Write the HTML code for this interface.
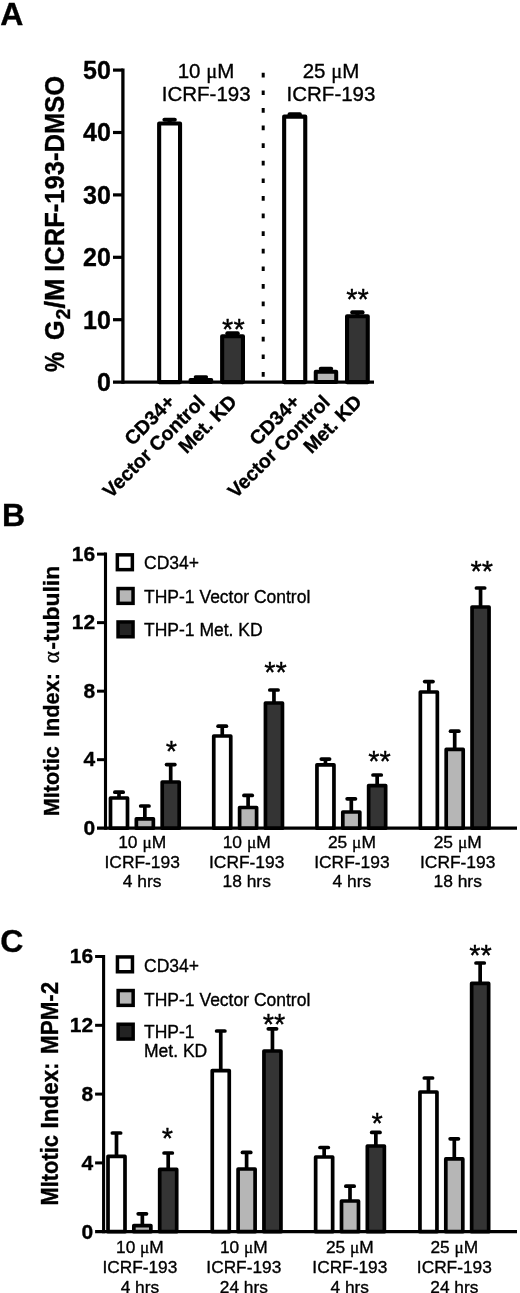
<!DOCTYPE html>
<html><head><meta charset="utf-8"><title>Figure</title>
<style>html,body{margin:0;padding:0;background:#fff}svg{display:block}</style></head><body>
<svg width="520" height="1293" viewBox="0 0 520 1293" font-family='"Liberation Sans", Arial, sans-serif' fill="#000">
<style>text{stroke:#000;stroke-width:0.35px;stroke-linejoin:round}</style>
<rect x="0" y="0" width="520" height="1293" fill="#fff"/>
<text x="0.3" y="25" font-size="32" font-weight="bold" text-anchor="start" >A</text>
<line x1="122.9" y1="68.5" x2="122.9" y2="383.7" stroke="#000" stroke-width="3.3" />
<text x="110.8" y="390.9" font-size="25" font-weight="bold" text-anchor="end" >0</text>
<line x1="113" y1="319.7" x2="122.9" y2="319.7" stroke="#000" stroke-width="3.2" />
<text x="110.8" y="328.5" font-size="25" font-weight="bold" text-anchor="end" >10</text>
<line x1="113" y1="257.3" x2="122.9" y2="257.3" stroke="#000" stroke-width="3.2" />
<text x="110.8" y="266.1" font-size="25" font-weight="bold" text-anchor="end" >20</text>
<line x1="113" y1="194.9" x2="122.9" y2="194.9" stroke="#000" stroke-width="3.2" />
<text x="110.8" y="203.7" font-size="25" font-weight="bold" text-anchor="end" >30</text>
<line x1="113" y1="132.5" x2="122.9" y2="132.5" stroke="#000" stroke-width="3.2" />
<text x="110.8" y="141.3" font-size="25" font-weight="bold" text-anchor="end" >40</text>
<line x1="113" y1="70.1" x2="122.9" y2="70.1" stroke="#000" stroke-width="3.2" />
<text x="110.8" y="78.9" font-size="25" font-weight="bold" text-anchor="end" >50</text>
<line x1="113" y1="382.1" x2="374" y2="382.1" stroke="#000" stroke-width="3.3" />
<text transform="translate(64.3,372.0) rotate(-90) scale(0.83,1)" font-size="27.2" font-weight="bold">%</text>
<text transform="translate(64.3,340.1) rotate(-90) scale(0.93,1)" font-size="27.2" font-weight="bold">G</text>
<text transform="translate(64.3,319.4) rotate(-90)" font-size="27.2" font-weight="bold"><tspan font-size="19.5" dy="5.8">2</tspan></text>
<text transform="translate(64.3,308.6) rotate(-90)" font-size="27.2" font-weight="bold">/M</text>
<text transform="translate(64.0,75.9) rotate(-90) scale(0.94,1)" font-size="27.2" font-weight="bold" text-anchor="end">ICRF-193-DMSO</text>
<line x1="169.6" y1="119.8" x2="169.6" y2="123.5" stroke="#000" stroke-width="4.1" />
<line x1="164.45" y1="119.8" x2="174.75" y2="119.8" stroke="#000" stroke-width="4.1" stroke-linecap="round"/>
<rect x="159.15" y="123.50" width="20.90" height="258.60" fill="#ffffff" stroke="#000" stroke-width="4.1" stroke-linejoin="round"/>
<line x1="200.9" y1="377" x2="200.9" y2="379.8" stroke="#000" stroke-width="3.6" />
<line x1="195.50" y1="377" x2="206.30" y2="377" stroke="#000" stroke-width="3.6" stroke-linecap="round"/>
<rect x="190.40" y="379.80" width="21.00" height="2.30" fill="#b6b6b6" stroke="#000" stroke-width="3.6" stroke-linejoin="round"/>
<line x1="232.55" y1="333.2" x2="232.55" y2="336.2" stroke="#000" stroke-width="4.1" />
<line x1="227.40" y1="333.2" x2="237.70" y2="333.2" stroke="#000" stroke-width="4.1" stroke-linecap="round"/>
<rect x="222.15" y="336.20" width="20.80" height="45.90" fill="#343434" stroke="#000" stroke-width="4.1" stroke-linejoin="round"/>
<line x1="294.7" y1="114.4" x2="294.7" y2="116.6" stroke="#000" stroke-width="4.1" />
<line x1="289.55" y1="114.4" x2="299.85" y2="114.4" stroke="#000" stroke-width="4.1" stroke-linecap="round"/>
<rect x="284.15" y="116.60" width="21.10" height="265.50" fill="#ffffff" stroke="#000" stroke-width="4.1" stroke-linejoin="round"/>
<line x1="325.98" y1="368.8" x2="325.98" y2="371.8" stroke="#000" stroke-width="4.0" />
<line x1="320.78" y1="368.8" x2="331.18" y2="368.8" stroke="#000" stroke-width="4.0" stroke-linecap="round"/>
<rect x="315.75" y="371.80" width="20.45" height="10.30" fill="#b6b6b6" stroke="#000" stroke-width="4.0" stroke-linejoin="round"/>
<line x1="357.4" y1="312.4" x2="357.4" y2="316.3" stroke="#000" stroke-width="4.1" />
<line x1="352.25" y1="312.4" x2="362.55" y2="312.4" stroke="#000" stroke-width="4.1" stroke-linecap="round"/>
<rect x="347.05" y="316.30" width="20.70" height="65.80" fill="#343434" stroke="#000" stroke-width="4.1" stroke-linejoin="round"/>
<line x1="263.2" y1="72.8" x2="263.2" y2="377.5" stroke="#000" stroke-width="3" stroke-dasharray="4.7 12.9"/>
<text x="206" y="78" font-size="20.5" font-weight="normal" text-anchor="middle" >10 <tspan font-family='"Liberation Serif", serif'>μ</tspan>M</text>
<text x="206.2" y="101" font-size="20.5" font-weight="normal" text-anchor="middle" >ICRF-193</text>
<text x="331" y="78" font-size="20.5" font-weight="normal" text-anchor="middle" >25 <tspan font-family='"Liberation Serif", serif'>μ</tspan>M</text>
<text x="331" y="101" font-size="20.5" font-weight="normal" text-anchor="middle" >ICRF-193</text>
<text x="233.4" y="338.75" font-size="29" font-weight="normal" text-anchor="middle" >**</text>
<text x="357.5" y="308.5" font-size="29" font-weight="normal" text-anchor="middle" >**</text>
<text transform="translate(176,403) rotate(-45)" font-size="19.6" font-weight="bold" text-anchor="end">CD34+</text>
<text transform="translate(206.2,403.5) rotate(-45)" font-size="19.6" font-weight="bold" text-anchor="end">Vector Control</text>
<text transform="translate(238,403) rotate(-45)" font-size="19.6" font-weight="bold" text-anchor="end">Met. KD</text>
<text transform="translate(301,403) rotate(-45)" font-size="19.6" font-weight="bold" text-anchor="end">CD34+</text>
<text transform="translate(331.2,403.5) rotate(-45)" font-size="19.6" font-weight="bold" text-anchor="end">Vector Control</text>
<text transform="translate(363,403) rotate(-45)" font-size="19.6" font-weight="bold" text-anchor="end">Met. KD</text>
<text x="2" y="526" font-size="32" font-weight="bold" text-anchor="start" >B</text>
<line x1="105.5" y1="552.62" x2="105.5" y2="829.7" stroke="#000" stroke-width="3.1" />
<text x="95.1" y="835.0" font-size="21" font-weight="bold" text-anchor="end" >0</text>
<line x1="97.0" y1="759.68" x2="105.5" y2="759.68" stroke="#000" stroke-width="3.0" />
<text x="95.1" y="766.48" font-size="21" font-weight="bold" text-anchor="end" >4</text>
<line x1="97.0" y1="691.16" x2="105.5" y2="691.16" stroke="#000" stroke-width="3.0" />
<text x="95.1" y="697.96" font-size="21" font-weight="bold" text-anchor="end" >8</text>
<line x1="97.0" y1="622.64" x2="105.5" y2="622.64" stroke="#000" stroke-width="3.0" />
<text x="95.1" y="629.44" font-size="21" font-weight="bold" text-anchor="end" >12</text>
<line x1="97.0" y1="554.12" x2="105.5" y2="554.12" stroke="#000" stroke-width="3.0" />
<text x="95.1" y="560.92" font-size="21" font-weight="bold" text-anchor="end" >16</text>
<line x1="97.0" y1="828.2" x2="517" y2="828.2" stroke="#000" stroke-width="3.2" />
<text transform="translate(58.9,816.3) rotate(-90) scale(0.95,1)" font-size="22.9" font-weight="bold">MItotic</text><text transform="translate(58.9,737.0) rotate(-90) scale(0.95,1)" font-size="22.9" font-weight="bold">Index:</text><text transform="translate(58.9,657.2) rotate(-90)" font-size="23" font-weight="normal" text-anchor="middle" stroke="#000" stroke-width="0.45" font-family='"Liberation Serif", serif'>α</text><text transform="translate(58.9,565.8) rotate(-90)" font-size="22.9" font-weight="bold" text-anchor="end">-tubulin</text>
<line x1="119.0" y1="792.2" x2="119.0" y2="798" stroke="#000" stroke-width="3.7" />
<line x1="114.85" y1="792.2" x2="123.15" y2="792.2" stroke="#000" stroke-width="3.7" stroke-linecap="round"/>
<rect x="110.50" y="798.00" width="17.00" height="30.20" fill="#ffffff" stroke="#000" stroke-width="3.7" stroke-linejoin="round"/>
<line x1="144.85" y1="806" x2="144.85" y2="818.8" stroke="#000" stroke-width="3.7" />
<line x1="140.70" y1="806" x2="149.00" y2="806" stroke="#000" stroke-width="3.7" stroke-linecap="round"/>
<rect x="136.35" y="818.80" width="17.00" height="9.40" fill="#b6b6b6" stroke="#000" stroke-width="3.7" stroke-linejoin="round"/>
<line x1="170.7" y1="764.6" x2="170.7" y2="782" stroke="#000" stroke-width="3.7" />
<line x1="166.55" y1="764.6" x2="174.85" y2="764.6" stroke="#000" stroke-width="3.7" stroke-linecap="round"/>
<rect x="162.20" y="782.00" width="17.00" height="46.20" fill="#343434" stroke="#000" stroke-width="3.7" stroke-linejoin="round"/>
<line x1="222.25" y1="726.2" x2="222.25" y2="736" stroke="#000" stroke-width="3.7" />
<line x1="218.10" y1="726.2" x2="226.40" y2="726.2" stroke="#000" stroke-width="3.7" stroke-linecap="round"/>
<rect x="213.75" y="736.00" width="17.00" height="92.20" fill="#ffffff" stroke="#000" stroke-width="3.7" stroke-linejoin="round"/>
<line x1="248.1" y1="795.4" x2="248.1" y2="807.5" stroke="#000" stroke-width="3.7" />
<line x1="243.95" y1="795.4" x2="252.25" y2="795.4" stroke="#000" stroke-width="3.7" stroke-linecap="round"/>
<rect x="239.60" y="807.50" width="17.00" height="20.70" fill="#b6b6b6" stroke="#000" stroke-width="3.7" stroke-linejoin="round"/>
<line x1="273.95" y1="690" x2="273.95" y2="703" stroke="#000" stroke-width="3.7" />
<line x1="269.80" y1="690" x2="278.10" y2="690" stroke="#000" stroke-width="3.7" stroke-linecap="round"/>
<rect x="265.45" y="703.00" width="17.00" height="125.20" fill="#343434" stroke="#000" stroke-width="3.7" stroke-linejoin="round"/>
<line x1="325.45" y1="759.1" x2="325.45" y2="764.8" stroke="#000" stroke-width="3.7" />
<line x1="321.30" y1="759.1" x2="329.60" y2="759.1" stroke="#000" stroke-width="3.7" stroke-linecap="round"/>
<rect x="316.95" y="764.80" width="17.00" height="63.40" fill="#ffffff" stroke="#000" stroke-width="3.7" stroke-linejoin="round"/>
<line x1="351.3" y1="798.8" x2="351.3" y2="812" stroke="#000" stroke-width="3.7" />
<line x1="347.15" y1="798.8" x2="355.45" y2="798.8" stroke="#000" stroke-width="3.7" stroke-linecap="round"/>
<rect x="342.80" y="812.00" width="17.00" height="16.20" fill="#b6b6b6" stroke="#000" stroke-width="3.7" stroke-linejoin="round"/>
<line x1="377.15" y1="775" x2="377.15" y2="785.6" stroke="#000" stroke-width="3.7" />
<line x1="373.00" y1="775" x2="381.30" y2="775" stroke="#000" stroke-width="3.7" stroke-linecap="round"/>
<rect x="368.65" y="785.60" width="17.00" height="42.60" fill="#343434" stroke="#000" stroke-width="3.7" stroke-linejoin="round"/>
<line x1="428.85" y1="681.6" x2="428.85" y2="692" stroke="#000" stroke-width="3.7" />
<line x1="424.70" y1="681.6" x2="433.00" y2="681.6" stroke="#000" stroke-width="3.7" stroke-linecap="round"/>
<rect x="420.35" y="692.00" width="17.00" height="136.20" fill="#ffffff" stroke="#000" stroke-width="3.7" stroke-linejoin="round"/>
<line x1="454.7" y1="731.2" x2="454.7" y2="749.4" stroke="#000" stroke-width="3.7" />
<line x1="450.55" y1="731.2" x2="458.85" y2="731.2" stroke="#000" stroke-width="3.7" stroke-linecap="round"/>
<rect x="446.20" y="749.40" width="17.00" height="78.80" fill="#b6b6b6" stroke="#000" stroke-width="3.7" stroke-linejoin="round"/>
<line x1="480.55" y1="588" x2="480.55" y2="607" stroke="#000" stroke-width="3.7" />
<line x1="476.40" y1="588" x2="484.70" y2="588" stroke="#000" stroke-width="3.7" stroke-linecap="round"/>
<rect x="472.05" y="607.00" width="17.00" height="221.20" fill="#343434" stroke="#000" stroke-width="3.7" stroke-linejoin="round"/>
<text x="171.5" y="761.25" font-size="29" font-weight="normal" text-anchor="middle" >*</text>
<text x="275.6" y="682" font-size="29" font-weight="normal" text-anchor="middle" >**</text>
<text x="379.5" y="771.25" font-size="29" font-weight="normal" text-anchor="middle" >**</text>
<text x="481.75" y="580.5" font-size="29" font-weight="normal" text-anchor="middle" >**</text>
<rect x="117.35" y="554.85" width="15" height="14.8" fill="#ffffff" stroke="#000" stroke-width="3.5"/>
<rect x="118.05" y="588.55" width="15" height="14.8" fill="#b6b6b6" stroke="#000" stroke-width="3.5"/>
<rect x="118.05" y="621.95" width="15" height="14.8" fill="#232323" stroke="#000" stroke-width="3.5"/>
<text x="144" y="568.9" font-size="17.5" font-weight="normal" text-anchor="start" >CD34+</text>
<text x="144" y="602.9" font-size="17.5" font-weight="normal" text-anchor="start" >THP-1 Vector Control</text>
<text x="144" y="636.4" font-size="17.5" font-weight="normal" text-anchor="start" >THP-1 Met. KD</text>
<text x="142.2" y="848.3" font-size="17.4" font-weight="normal" text-anchor="middle" >10 <tspan font-family='"Liberation Serif", serif'>μ</tspan>M</text>
<text x="142.2" y="868.1" font-size="17.4" font-weight="normal" text-anchor="middle" >ICRF-193</text>
<text x="142.2" y="887.1" font-size="17.4" font-weight="normal" text-anchor="middle" >4 hrs</text>
<text x="246.7" y="848.3" font-size="17.4" font-weight="normal" text-anchor="middle" >10 <tspan font-family='"Liberation Serif", serif'>μ</tspan>M</text>
<text x="246.7" y="868.1" font-size="17.4" font-weight="normal" text-anchor="middle" >ICRF-193</text>
<text x="246.7" y="887.1" font-size="17.4" font-weight="normal" text-anchor="middle" >18 hrs</text>
<text x="351.9" y="848.3" font-size="17.4" font-weight="normal" text-anchor="middle" >25 <tspan font-family='"Liberation Serif", serif'>μ</tspan>M</text>
<text x="351.9" y="868.1" font-size="17.4" font-weight="normal" text-anchor="middle" >ICRF-193</text>
<text x="351.9" y="887.1" font-size="17.4" font-weight="normal" text-anchor="middle" >4 hrs</text>
<text x="457.7" y="848.3" font-size="17.4" font-weight="normal" text-anchor="middle" >25 <tspan font-family='"Liberation Serif", serif'>μ</tspan>M</text>
<text x="457.7" y="868.1" font-size="17.4" font-weight="normal" text-anchor="middle" >ICRF-193</text>
<text x="457.7" y="887.1" font-size="17.4" font-weight="normal" text-anchor="middle" >18 hrs</text>
<text x="0.3" y="951.5" font-size="32" font-weight="bold" text-anchor="start" >C</text>
<line x1="103.6" y1="955.0" x2="103.6" y2="1233.2" stroke="#000" stroke-width="3.1" />
<text x="93.2" y="1238.5" font-size="21" font-weight="bold" text-anchor="end" >0</text>
<line x1="95.1" y1="1162.9" x2="103.6" y2="1162.9" stroke="#000" stroke-width="3.0" />
<text x="93.2" y="1169.7" font-size="21" font-weight="bold" text-anchor="end" >4</text>
<line x1="95.1" y1="1094.1" x2="103.6" y2="1094.1" stroke="#000" stroke-width="3.0" />
<text x="93.2" y="1100.9" font-size="21" font-weight="bold" text-anchor="end" >8</text>
<line x1="95.1" y1="1025.3" x2="103.6" y2="1025.3" stroke="#000" stroke-width="3.0" />
<text x="93.2" y="1032.1" font-size="21" font-weight="bold" text-anchor="end" >12</text>
<line x1="95.1" y1="956.5" x2="103.6" y2="956.5" stroke="#000" stroke-width="3.0" />
<text x="93.2" y="963.3" font-size="21" font-weight="bold" text-anchor="end" >16</text>
<line x1="95.1" y1="1231.7" x2="517" y2="1231.7" stroke="#000" stroke-width="3.2" />
<text transform="translate(57.6,1205.6) rotate(-90) scale(0.95,1)" font-size="23.1" font-weight="bold">MItotic</text><text transform="translate(57.6,1128.4) rotate(-90) scale(0.97,1)" font-size="23.1" font-weight="bold">Index:</text><text transform="translate(57.6,1053.9) rotate(-90) scale(0.97,1)" font-size="23.1" font-weight="bold">MPM-2</text>
<line x1="116.5" y1="1133" x2="116.5" y2="1156.4" stroke="#000" stroke-width="3.7" />
<line x1="112.35" y1="1133" x2="120.65" y2="1133" stroke="#000" stroke-width="3.7" stroke-linecap="round"/>
<rect x="108.00" y="1156.40" width="17.00" height="75.30" fill="#ffffff" stroke="#000" stroke-width="3.7" stroke-linejoin="round"/>
<line x1="142.35" y1="1213.8" x2="142.35" y2="1225.6" stroke="#000" stroke-width="3.7" />
<line x1="138.20" y1="1213.8" x2="146.50" y2="1213.8" stroke="#000" stroke-width="3.7" stroke-linecap="round"/>
<rect x="133.85" y="1225.60" width="17.00" height="6.10" fill="#b6b6b6" stroke="#000" stroke-width="3.7" stroke-linejoin="round"/>
<line x1="168.2" y1="1153" x2="168.2" y2="1169.4" stroke="#000" stroke-width="3.7" />
<line x1="164.05" y1="1153" x2="172.35" y2="1153" stroke="#000" stroke-width="3.7" stroke-linecap="round"/>
<rect x="159.70" y="1169.40" width="17.00" height="62.30" fill="#343434" stroke="#000" stroke-width="3.7" stroke-linejoin="round"/>
<line x1="220.75" y1="1031" x2="220.75" y2="1070.6" stroke="#000" stroke-width="3.7" />
<line x1="216.60" y1="1031" x2="224.90" y2="1031" stroke="#000" stroke-width="3.7" stroke-linecap="round"/>
<rect x="212.25" y="1070.60" width="17.00" height="161.10" fill="#ffffff" stroke="#000" stroke-width="3.7" stroke-linejoin="round"/>
<line x1="246.6" y1="1152.4" x2="246.6" y2="1169" stroke="#000" stroke-width="3.7" />
<line x1="242.45" y1="1152.4" x2="250.75" y2="1152.4" stroke="#000" stroke-width="3.7" stroke-linecap="round"/>
<rect x="238.10" y="1169.00" width="17.00" height="62.70" fill="#b6b6b6" stroke="#000" stroke-width="3.7" stroke-linejoin="round"/>
<line x1="272.45" y1="1028.8" x2="272.45" y2="1051" stroke="#000" stroke-width="3.7" />
<line x1="268.30" y1="1028.8" x2="276.60" y2="1028.8" stroke="#000" stroke-width="3.7" stroke-linecap="round"/>
<rect x="263.95" y="1051.00" width="17.00" height="180.70" fill="#343434" stroke="#000" stroke-width="3.7" stroke-linejoin="round"/>
<line x1="324.15" y1="1147.5" x2="324.15" y2="1157" stroke="#000" stroke-width="3.7" />
<line x1="320.00" y1="1147.5" x2="328.30" y2="1147.5" stroke="#000" stroke-width="3.7" stroke-linecap="round"/>
<rect x="315.65" y="1157.00" width="17.00" height="74.70" fill="#ffffff" stroke="#000" stroke-width="3.7" stroke-linejoin="round"/>
<line x1="350.0" y1="1186.2" x2="350.0" y2="1201" stroke="#000" stroke-width="3.7" />
<line x1="345.85" y1="1186.2" x2="354.15" y2="1186.2" stroke="#000" stroke-width="3.7" stroke-linecap="round"/>
<rect x="341.50" y="1201.00" width="17.00" height="30.70" fill="#b6b6b6" stroke="#000" stroke-width="3.7" stroke-linejoin="round"/>
<line x1="375.85" y1="1132.4" x2="375.85" y2="1146" stroke="#000" stroke-width="3.7" />
<line x1="371.70" y1="1132.4" x2="380.00" y2="1132.4" stroke="#000" stroke-width="3.7" stroke-linecap="round"/>
<rect x="367.35" y="1146.00" width="17.00" height="85.70" fill="#343434" stroke="#000" stroke-width="3.7" stroke-linejoin="round"/>
<line x1="428.45" y1="1078" x2="428.45" y2="1092" stroke="#000" stroke-width="3.7" />
<line x1="424.30" y1="1078" x2="432.60" y2="1078" stroke="#000" stroke-width="3.7" stroke-linecap="round"/>
<rect x="419.95" y="1092.00" width="17.00" height="139.70" fill="#ffffff" stroke="#000" stroke-width="3.7" stroke-linejoin="round"/>
<line x1="454.3" y1="1138.8" x2="454.3" y2="1158.9" stroke="#000" stroke-width="3.7" />
<line x1="450.15" y1="1138.8" x2="458.45" y2="1138.8" stroke="#000" stroke-width="3.7" stroke-linecap="round"/>
<rect x="445.80" y="1158.90" width="17.00" height="72.80" fill="#b6b6b6" stroke="#000" stroke-width="3.7" stroke-linejoin="round"/>
<line x1="480.15" y1="963" x2="480.15" y2="983.4" stroke="#000" stroke-width="3.7" />
<line x1="476.00" y1="963" x2="484.30" y2="963" stroke="#000" stroke-width="3.7" stroke-linecap="round"/>
<rect x="471.65" y="983.40" width="17.00" height="248.30" fill="#343434" stroke="#000" stroke-width="3.7" stroke-linejoin="round"/>
<text x="167.5" y="1147.5" font-size="29" font-weight="normal" text-anchor="middle" >*</text>
<text x="274.1" y="1033.75" font-size="29" font-weight="normal" text-anchor="middle" >**</text>
<text x="377.2" y="1132.6" font-size="29" font-weight="normal" text-anchor="middle" >*</text>
<text x="480.6" y="964.5" font-size="29" font-weight="normal" text-anchor="middle" >**</text>
<rect x="117.45" y="956.95" width="15" height="14.8" fill="#ffffff" stroke="#000" stroke-width="3.5"/>
<rect x="118.15" y="990.55" width="15" height="14.8" fill="#b6b6b6" stroke="#000" stroke-width="3.5"/>
<rect x="118.15" y="1024.25" width="15" height="14.8" fill="#232323" stroke="#000" stroke-width="3.5"/>
<text x="144" y="971.9" font-size="17.5" font-weight="normal" text-anchor="start" >CD34+</text>
<text x="144" y="1005.5" font-size="17.5" font-weight="normal" text-anchor="start" >THP-1 Vector Control</text>
<text x="144" y="1038.1" font-size="17.5" font-weight="normal" text-anchor="start" >THP-1</text>
<text x="144" y="1057.2" font-size="17.5" font-weight="normal" text-anchor="start" >Met. KD</text>
<text x="139.9" y="1253.0" font-size="17.3" font-weight="normal" text-anchor="middle" >10 <tspan font-family='"Liberation Serif", serif'>μ</tspan>M</text>
<text x="139.9" y="1272.7" font-size="17.3" font-weight="normal" text-anchor="middle" >ICRF-193</text>
<text x="139.9" y="1292.5" font-size="17.3" font-weight="normal" text-anchor="middle" >4 hrs</text>
<text x="243.8" y="1253.0" font-size="17.3" font-weight="normal" text-anchor="middle" >10 <tspan font-family='"Liberation Serif", serif'>μ</tspan>M</text>
<text x="243.8" y="1272.7" font-size="17.3" font-weight="normal" text-anchor="middle" >ICRF-193</text>
<text x="243.8" y="1292.5" font-size="17.3" font-weight="normal" text-anchor="middle" >24 hrs</text>
<text x="349.8" y="1253.0" font-size="17.3" font-weight="normal" text-anchor="middle" >25 <tspan font-family='"Liberation Serif", serif'>μ</tspan>M</text>
<text x="349.8" y="1272.7" font-size="17.3" font-weight="normal" text-anchor="middle" >ICRF-193</text>
<text x="349.8" y="1292.5" font-size="17.3" font-weight="normal" text-anchor="middle" >4 hrs</text>
<text x="454.3" y="1253.0" font-size="17.3" font-weight="normal" text-anchor="middle" >25 <tspan font-family='"Liberation Serif", serif'>μ</tspan>M</text>
<text x="454.3" y="1272.7" font-size="17.3" font-weight="normal" text-anchor="middle" >ICRF-193</text>
<text x="454.3" y="1292.5" font-size="17.3" font-weight="normal" text-anchor="middle" >24 hrs</text>
</svg></body></html>
